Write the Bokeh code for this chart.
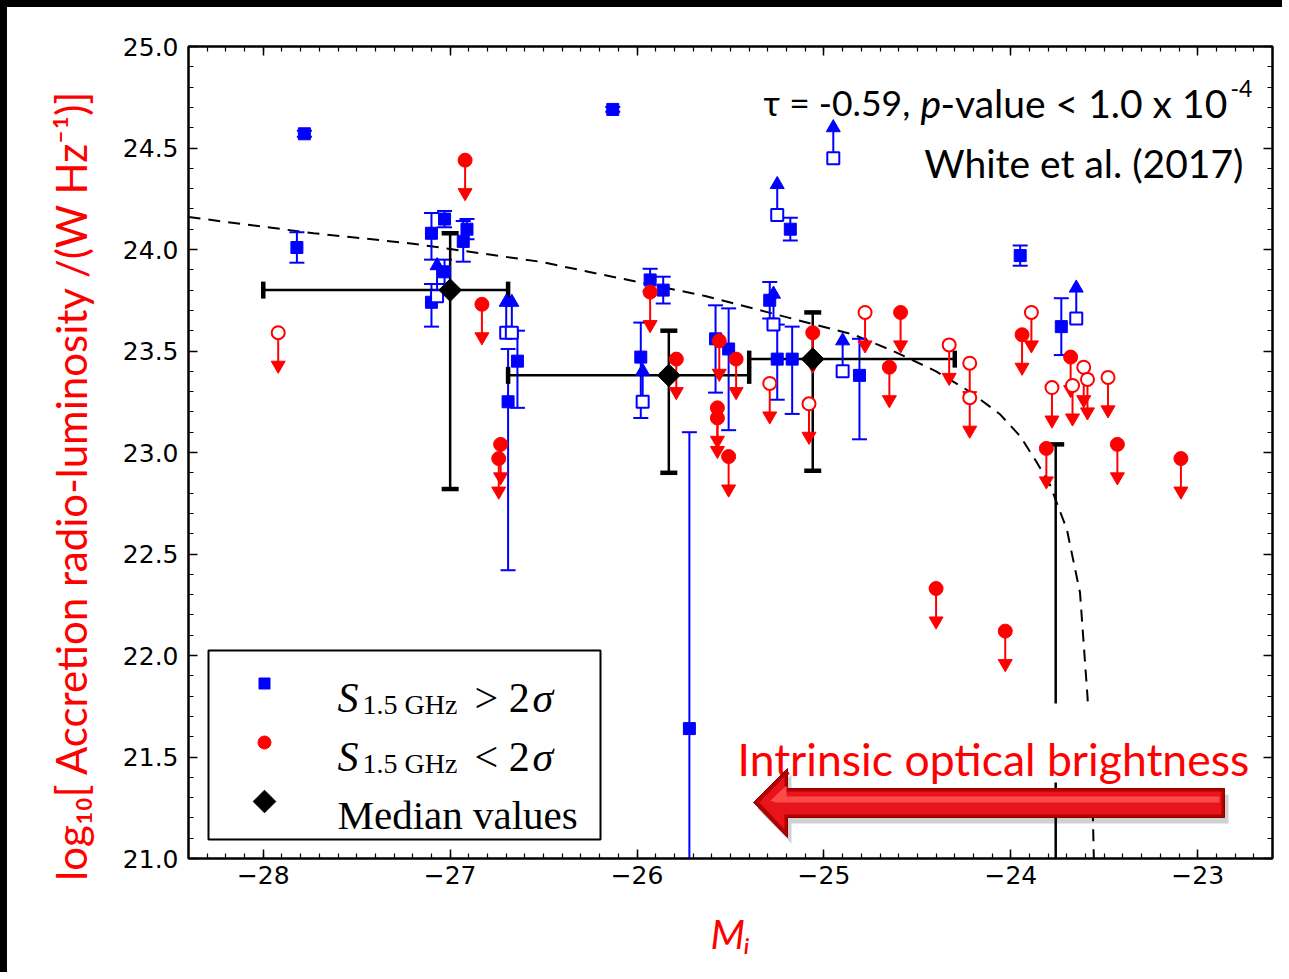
import numpy as np
from bokeh.plotting import figure
from bokeh.models import Range1d, FixedTicker, CustomJSTickFormatter, LinearAxis
from bokeh.core.properties import value
from bokeh.embed import file_html
from bokeh.resources import INLINE

# ---------------- data ----------------
# blue: S_1.5GHz > 2 sigma, filled squares with (asymmetric) error bars
det_x = [-27.78, -26.13, -27.82, -27.10, -27.03, -26.91, -26.93, -27.03, -27.10, -26.64,
         -26.69, -25.72, -25.98, -25.93, -25.86, -25.58, -25.51, -25.29, -25.25, -25.17,
         -25.18, -24.81, -23.95, -23.73]
det_y = [24.57, 24.69, 24.01, 24.08, 24.15, 24.10, 24.04, 23.89, 23.74, 23.45,
         23.25, 21.64, 23.47, 23.85, 23.80, 23.56, 23.51, 23.75, 23.46, 23.46,
         24.10, 23.38, 23.97, 23.62]
det_err_hi = [0.015, 0.012, 0.075, 0.10, 0.04, 0.05, 0.10, 0.06, 0.09, 0.15,
              0.26, 1.46, 0.17, 0.055, 0.066, 0.165, 0.20, 0.09, 0.17, 0.16,
              0.056, 0.18, 0.05, 0.14]
det_err_lo = [0.015, 0.012, 0.075, 0.13, 0.04, 0.05, 0.10, 0.06, 0.12, 0.23,
              0.83, 1.46, 0.30, 0.055, 0.066, 0.265, 0.40, 0.09, 0.20, 0.27,
              0.056, 0.315, 0.05, 0.14]

# blue open squares: lower limits
lol_x = [-27.07, -26.70, -26.67, -25.97, -25.27, -25.25, -24.95, -24.90, -23.65]
lol_y = [23.77, 23.59, 23.59, 23.25, 23.63, 24.17, 24.45, 23.40, 23.66]

# red: S_1.5GHz < 2 sigma, upper limits (filled circles)
ulf_x = [-26.92, -26.83, -26.73, -26.74, -25.93, -25.79, -25.56, -25.47, -25.57, -25.57,
         -25.51, -25.06, -24.65, -24.59, -24.40, -24.03, -23.94, -23.81, -23.68, -23.43, -23.09]
ulf_y = [24.44, 23.73, 23.04, 22.97, 23.79, 23.46, 23.55, 23.46, 23.22, 23.17,
         22.98, 23.59, 23.42, 23.69, 22.33, 22.12, 23.58, 23.02, 23.47, 23.04, 22.97]
# red open circles: upper limits
ulo_x = [-27.92, -25.29, -25.08, -24.78, -24.33, -24.22, -24.22, -23.89, -23.78, -23.67,
         -23.61, -23.59, -23.48]
ulo_y = [23.59, 23.34, 23.24, 23.69, 23.53, 23.44, 23.27, 23.69, 23.32, 23.33,
         23.42, 23.36, 23.37]

# median values (last bin's centre lies below the plotted range)
med_x = [-27.00, -25.83, -25.06, -23.76]
med_y = [23.80, 23.38, 23.46, 20.60]
med_x_lo = [-28.00, -26.69, -25.40, -24.30]
med_x_hi = [-26.69, -25.40, -24.30, -23.10]
med_y_hi = [24.08, 23.60, 23.69, 23.04]
med_y_lo = [22.82, 22.90, 22.91, 19.90]

# dashed fit curve
fit_x = [-28.40, -27.73, -27.21, -26.52, -25.63, -24.84, -24.63, -24.40, -24.22, -24.06,
         -23.95, -23.86, -23.79, -23.70, -23.63, -23.59, -23.565, -23.556]
fit_y = [24.16, 24.08, 24.03, 23.94, 23.77, 23.58, 23.50, 23.40, 23.30, 23.19,
         23.08, 22.95, 22.84, 22.62, 22.31, 21.80, 21.37, 21.00]

x_ticks = [-28, -27, -26, -25, -24, -23]
y_ticks = [21.0, 21.5, 22.0, 22.5, 23.0, 23.5, 24.0, 24.5, 25.0]

LIM_RED = 0.20   # length of upper-limit arrows
LIM_BLUE = 0.19  # length of lower-limit arrows

# ---------------- geometry helpers ----------------
XMIN, XMAX, YMIN, YMAX = -28.4, -22.6, 21.0, 25.0
BAND = 7                                     # black band at top / left of the page
FL, FR, FT, FB = 188, 1272, 46, 858          # frame edges on the page (px)
PXX = (FR - FL) / (XMAX - XMIN)
PXY = (FB - FT) / (YMAX - YMIN)
def X(px): return XMIN + (px - FL) / PXX
def Y(py): return YMAX - (py - FT) / PXY

BLUE = "#0000ff"
RED = "#ff0000"

p = figure(width=1289 - BAND, height=979 - BAND, x_range=Range1d(XMIN, XMAX), y_range=Range1d(YMIN, YMAX),
           output_backend="svg", toolbar_location=None, title=None,
           min_border_left=FL - BAND, min_border_right=1289 - FR, min_border_top=FT - BAND,
           min_border_bottom=979 - FB, background_fill_color="white", border_fill_color="white")
p.styles = {"border-top": f"{BAND}px solid black", "border-left": f"{BAND}px solid black"}
p.grid.visible = False
p.outline_line_color = "black"
p.outline_line_width = 2

bottom_ax = p.xaxis[0]
left_ax = p.yaxis[0]

x_minor = [round(XMIN + 0.1 * i, 1) for i in range(59)]
y_minor = [round(YMIN + 0.1 * i, 1) for i in range(41)]
xt = FixedTicker(ticks=x_ticks, minor_ticks=x_minor)
yt = FixedTicker(ticks=y_ticks, minor_ticks=y_minor)
xfmt = CustomJSTickFormatter(code="return (tick < 0 ? '\u2212' : '') + Math.abs(tick).toFixed(0);")
yfmt = CustomJSTickFormatter(code="return tick.toFixed(1);")

def style_axis(ax, ticker, fmt, labels, standoff=8):
    ax.ticker = ticker
    ax.formatter = fmt
    ax.axis_line_color = "black"
    ax.axis_line_width = 2
    ax.major_tick_in = 9
    ax.major_tick_out = 0
    ax.major_tick_line_width = 1.5
    ax.major_tick_line_color = "black"
    ax.minor_tick_in = 5
    ax.minor_tick_out = 0
    ax.minor_tick_line_width = 1.2
    ax.minor_tick_line_color = "black"
    if labels:
        ax.major_label_text_font = "DejaVu Sans"
        ax.major_label_text_font_size = "25px"
        ax.major_label_text_color = "black"
        ax.major_label_standoff = standoff
    else:
        ax.major_label_text_font_size = "0px"
        ax.major_label_text_alpha = 0
        ax.major_label_standoff = 0

style_axis(bottom_ax, xt, xfmt, True, 7)
style_axis(left_ax, yt, yfmt, True, 10)
top_ax = LinearAxis()
style_axis(top_ax, xt, xfmt, False)
p.add_layout(top_ax, "above")
right_ax = LinearAxis()
style_axis(right_ax, yt, yfmt, False)
p.add_layout(right_ax, "right")

# axis titles
NB = "\u00a0"
left_ax.axis_label = "log\u2081\u2080[ Accretion radio-luminosity /(W Hz\u207b\u00b9)]" + NB * 6
left_ax.axis_label_text_font = "Lato"
left_ax.axis_label_text_font_size = "42px"
left_ax.axis_label_text_font_style = "normal"
left_ax.axis_label_text_color = RED
left_ax.axis_label_standoff = 24
bottom_ax.axis_label = "M\u1d62"
bottom_ax.axis_label_text_font = "Lato"
bottom_ax.axis_label_text_font_size = "40px"
bottom_ax.axis_label_text_font_style = "italic"
bottom_ax.axis_label_text_color = RED
bottom_ax.axis_label_standoff = 23

# ---------------- fit curve ----------------
p.line(fit_x, fit_y, line_color="black", line_width=2, line_dash="12 8")

# ---------------- blue detections: error bars ----------------
dx = np.array(det_x); dy = np.array(det_y)
d_hi = dy + np.array(det_err_hi); d_lo = dy - np.array(det_err_lo)
p.segment(x0=dx, y0=d_lo, x1=dx, y1=d_hi, line_color=BLUE, line_width=2)
p.scatter(x=np.concatenate([dx, dx]), y=np.concatenate([d_lo, d_hi]), marker="dash",
          size=15, line_color=BLUE, line_width=2)

# ---------------- medians ----------------
mx = np.array(med_x); my = np.array(med_y)
p.segment(x0=mx, y0=np.array(med_y_lo), x1=mx, y1=np.array(med_y_hi), line_color="black", line_width=2.5)
p.segment(x0=np.array(med_x_lo), y0=my, x1=np.array(med_x_hi), y1=my, line_color="black", line_width=2.5)
p.scatter(x=np.concatenate([mx, mx]), y=np.concatenate([med_y_lo, med_y_hi]), marker="dash",
          size=17, line_color="black", line_width=4.5)
p.scatter(x=np.concatenate([med_x_lo, med_x_hi]), y=np.concatenate([my, my]), marker="dash",
          angle=np.pi / 2, size=17, line_color="black", line_width=4.5)

# ---------------- limit arrows ----------------
HEAD = 14
head_h = HEAD * np.sqrt(3) / 2
# blue lower limits (pointing up)
bx = np.array(lol_x); by = np.array(lol_y)
btip = by + LIM_BLUE
p.segment(x0=bx, y0=by, x1=bx, y1=btip - (head_h * 0.5) / PXY, line_color=BLUE, line_width=2)
p.scatter(x=bx, y=btip - (2 * head_h / 3) / PXY, marker="triangle", size=HEAD,
          fill_color=BLUE, line_color=BLUE, line_width=1)
# red upper limits (pointing down)
rx = np.array(ulf_x + ulo_x); ry = np.array(ulf_y + ulo_y)
rtip = ry - LIM_RED
p.segment(x0=rx, y0=ry, x1=rx, y1=rtip + (head_h * 0.5) / PXY, line_color=RED, line_width=2)
p.scatter(x=rx, y=rtip + (2 * head_h / 3) / PXY, marker="inverted_triangle", size=HEAD,
          fill_color=RED, line_color=RED, line_width=1)

# ---------------- markers ----------------
p.scatter(x=dx, y=dy, marker="square", size=12, fill_color=BLUE, line_color=BLUE)
p.scatter(x=bx, y=by, marker="square", size=12, fill_color="white", line_color=BLUE, line_width=2)
p.scatter(x=mx, y=my, marker="square", angle=np.pi / 4, size=16, fill_color="black", line_color="black")
p.scatter(x=ulf_x, y=ulf_y, marker="circle", size=14, fill_color=RED, line_color=RED)
p.scatter(x=ulo_x, y=ulo_y, marker="circle", size=13, fill_color="white", line_color=RED, line_width=2)

# ---------------- "Intrinsic optical brightness" + arrow ----------------
p.quad(left=[X(730)], right=[X(1256)], top=[Y(703)], bottom=[Y(782)], fill_color="white", line_color=None)
p.text(x=[X(737)], y=[Y(758)], text=["Intrinsic optical brightness"], text_color=RED,
       text_font=value("Lato"), text_font_size=value("44.5px"), text_align="left",
       text_baseline="alphabetic")

arrow_px = [(753, 802), (787, 768), (787, 788), (1224, 788), (1224, 817), (787, 817), (787, 837)]
def poly(pts, ox=0, oy=0):
    return [X(a + ox) for a, b in pts], [Y(b + oy) for a, b in pts]
sx, sy = poly(arrow_px, 4, 6)
p.patch(sx, sy, fill_color="black", fill_alpha=0.18, line_color=None)
ax_, ay_ = poly(arrow_px)
p.patch(ax_, ay_, fill_color="#b30000", line_color="#8a0000", line_width=1)
inner_px = [(759, 802), (784, 776), (784, 791), (1221, 791), (1221, 814), (784, 814), (784, 829)]
ix, iy = poly(inner_px)
p.patch(ix, iy, fill_color="#e8141c", line_color=None)
hl_px = [(770, 800), (786, 785), (786, 796), (1219, 796), (1219, 802), (786, 802), (775, 802)]
hx, hy = poly(hl_px)
p.patch(hx, hy, fill_color="#ff4a4a", line_color=None)

# ---------------- statistics text ----------------
TXT = dict(text_color="black", text_font=value("Lato"), text_align="left", text_baseline="alphabetic")
p.text(x=[X(763)], y=[Y(102)], text=["\u03c4 = -0.59,"], text_font_size=value("35.5px"), **TXT)
p.text(x=[X(920)], y=[Y(102)], text=["p"], text_font_size=value("39px"), text_font_style="italic", **TXT)
p.text(x=[X(940)], y=[Y(102)], text=["-value < 1.0 x 10"], text_font_size=value("39px"), **TXT)
p.text(x=[X(1230)], y=[Y(88)], text=["-4"], text_font_size=value("23px"), **TXT)
p.text(x=[X(1243)], y=[Y(162)], text=["White et al. (2017)"], text_font_size=value("39px"),
       text_color="black", text_font=value("Lato"), text_align="right", text_baseline="alphabetic")

# ---------------- legend ----------------
p.quad(left=[X(208)], right=[X(600)], top=[Y(650)], bottom=[Y(839)], fill_color="white",
       line_color="black", line_width=2)
p.scatter(x=[X(264)], y=[Y(683)], marker="square", size=11, fill_color=BLUE, line_color=BLUE)
p.scatter(x=[X(264)], y=[Y(742)], marker="circle", size=13, fill_color=RED, line_color=RED)
p.scatter(x=[X(264)], y=[Y(801)], marker="square", angle=np.pi / 4, size=16, fill_color="black", line_color="black")
SER = dict(text_color="black", text_font=value("Liberation Serif"), text_align="left", text_baseline="alphabetic")
for row, rel in [(0, "> 2"), (59, "< 2")]:
    p.text(x=[X(337)], y=[Y(697 + row)], text=["S"], text_font_size=value("42px"), text_font_style="italic", **SER)
    p.text(x=[X(362)], y=[Y(704 + row)], text=["1.5 GHz"], text_font_size=value("28px"), **SER)
    p.text(x=[X(474)], y=[Y(697 + row)], text=[rel], text_font_size=value("42px"), **SER)
    p.text(x=[X(532)], y=[Y(697 + row)], text=["\u03c3"], text_font_size=value("42px"), text_font_style="italic", **SER)
p.text(x=[X(337)], y=[Y(814)], text=["Median values"], text_font_size=value("41px"), **SER)

open("out.html", "w").write(file_html(p, INLINE))
